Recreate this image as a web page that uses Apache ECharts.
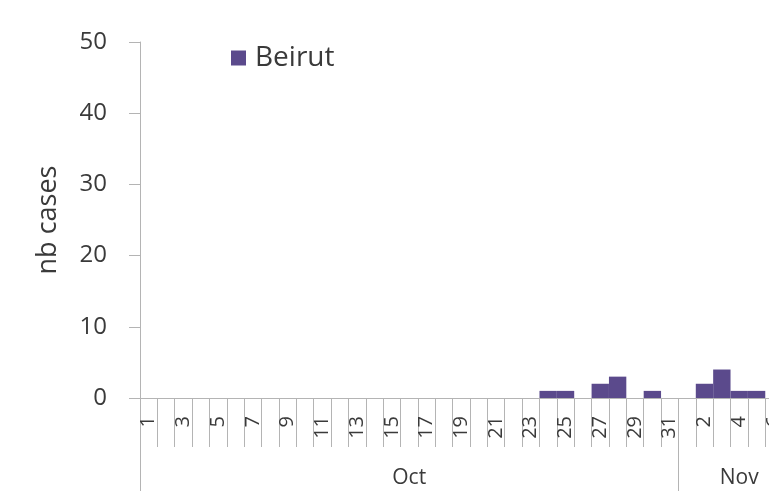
<!DOCTYPE html>
<html>
<head>
<meta charset="utf-8">
<script src="https://cdn.jsdelivr.net/npm/echarts@6/dist/echarts.min.js"></script>
<style>
html,body{margin:0;padding:0;background:#fff;overflow:hidden;}
#chart{width:800px;height:491px;}
</style>
</head>
<body>
<div id="chart"></div>
<script>
// Data
const months = ['Oct', 'Nov'];
const monthDays = [31, 7]; // days shown per month
const dayLabels = [
  '1','2','3','4','5','6','7','8','9','10','11','12','13','14','15','16','17','18','19','20',
  '21','22','23','24','25','26','27','28','29','30','31',
  '1','2','3','4','5','6','7'
];
const beirut = [
  0,0,0,0,0,0,0,0,0,0,0,0,0,0,0,0,0,0,0,0,
  0,0,0,1,1,0,2,3,0,1,0,
  0,2,4,1,1,0,0
];
const yTicks = [0, 10, 20, 30, 40, 50];

// derived month boundaries / centres
const bounds = [0];
monthDays.forEach(d => bounds.push(bounds[bounds.length - 1] + d));
const centres = monthDays.map((d, i) => bounds[i] + d / 2);
const total = bounds[bounds.length - 1];

const FONT = '"Open Sans", sans-serif';
const GRAY = '#b4b4b4';
const TXT = '#3a3a3a';

const chart = echarts.init(document.getElementById('chart'), null, {renderer: 'canvas'});
chart.setOption({
  animation: false,
  backgroundColor: '#ffffff',
  textStyle: {fontFamily: FONT},
  grid: {left: 140, top: 42, right: 0, bottom: 93, containLabel: false},
  legend: {
    left: 231, top: 44, padding: 0,
    itemWidth: 15, itemHeight: 15, itemGap: 10,
    icon: 'rect',
    textStyle: {fontFamily: FONT, fontSize: 28, color: TXT, padding: [0, 0, 0, 4]},
    data: ['Beirut']
  },
  xAxis: [
    {
      type: 'category',
      data: dayLabels,
      boundaryGap: true,
      position: 'bottom',
      axisLine: {show: true, lineStyle: {color: GRAY, width: 1}},
      axisTick: {show: true, interval: 0, length: 49, alignWithLabel: false, lineStyle: {color: GRAY, width: 1}},
      axisLabel: {
        interval: 1, rotate: 90, margin: 18,
        align: 'right', verticalAlign: 'middle',
        fontFamily: FONT, fontSize: 20, color: TXT
      },
      splitLine: {show: false}
    },
    {
      type: 'value',
      min: 0, max: total,
      position: 'bottom',
      axisLine: {show: false},
      axisTick: {show: true, customValues: bounds, length: 93, lineStyle: {color: GRAY, width: 1}},
      axisLabel: {
        customValues: centres,
        margin: 70,
        fontFamily: FONT, fontSize: 21, color: TXT,
        formatter: function (v) {
          for (let i = 0; i < centres.length; i++) {
            if (Math.abs(centres[i] - v) < 0.01) return months[i];
          }
          return '';
        }
      },
      splitLine: {show: false}
    }
  ],
  yAxis: {
    type: 'value',
    min: yTicks[0], max: yTicks[yTicks.length - 1], interval: 10,
    name: 'nb cases',
    nameLocation: 'middle',
    nameRotate: 90,
    nameGap: 78,
    nameTextStyle: {fontFamily: FONT, fontSize: 27, color: TXT},
    axisLine: {show: true, lineStyle: {color: GRAY, width: 1}},
    axisTick: {show: true, inside: false, length: 11, lineStyle: {color: GRAY, width: 1}},
    axisLabel: {margin: 33, fontFamily: FONT, fontSize: 24, color: TXT},
    splitLine: {show: false}
  },
  series: [{
    name: 'Beirut',
    type: 'bar',
    xAxisIndex: 0,
    data: beirut,
    barCategoryGap: '0%',
    barGap: '0%',
    itemStyle: {color: '#5b4a8c'}
  }]
});
</script>
</body>
</html>
